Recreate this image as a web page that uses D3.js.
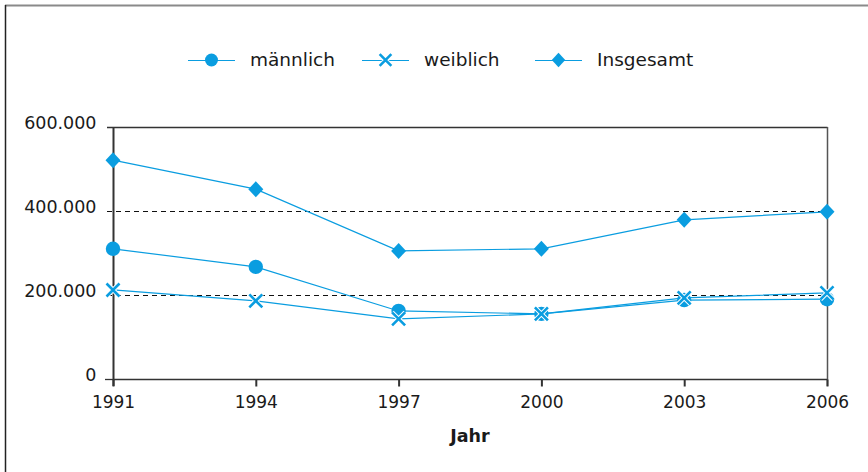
<!DOCTYPE html>
<html><head><meta charset="utf-8">
<script src="https://cdn.jsdelivr.net/npm/d3@7"></script>
<style>body{margin:0;background:#fff}svg{display:block}</style>
</head><body>
<svg id="c" width="868" height="472"></svg>
<script>
const years = [1991, 1994, 1997, 2000, 2003, 2006];
const maennlich = [310000, 267000, 162000, 155000, 188000, 190000];
const weiblich = [212000, 186000, 143000, 155000, 193000, 205000];
const insgesamt = [521000, 452000, 305000, 310000, 379000, 398000];
const yTicks = [0, 200000, 400000, 600000];
const seriesNames = ["männlich", "weiblich", "Insgesamt"];
const seriesSymbols = ["circle", "cross", "diamond"];
const xTitle = "Jahr";

const blue = "#0a9de0";
const font = "'DejaVu Sans', sans-serif";
const svg = d3.select("#c");

// frame
svg.append("line").attr("x1",5).attr("x2",868).attr("y1",5.5).attr("y2",5.5).attr("stroke","#8a8a8a").attr("stroke-width",2);
svg.append("line").attr("x1",5.5).attr("x2",5.5).attr("y1",5).attr("y2",472).attr("stroke","#222").attr("stroke-width",1.5);

const x = d3.scalePoint().domain(years).range([113, 827]);
const y = d3.scaleLinear().domain([0, 600000]).range([379, 127]);

// gridlines
svg.append("g").selectAll("line").data([200000, 400000]).join("line")
  .attr("x1",107).attr("x2",827).attr("y1",d=>Math.round(y(d))+0.5).attr("y2",d=>Math.round(y(d))+0.5)
  .attr("stroke","#111").attr("stroke-width",1).attr("stroke-dasharray","5,4");
// top line
svg.append("line").attr("x1",107).attr("x2",827.5).attr("y1",127.5).attr("y2",127.5).attr("stroke","#333").attr("stroke-width",1.3);
// right line
svg.append("line").attr("x1",827.5).attr("x2",827.5).attr("y1",127).attr("y2",386).attr("stroke","#555").attr("stroke-width",1.5);

// y axis
const yAxis = svg.append("g").attr("transform","translate(113.5,0)")
  .call(d3.axisLeft(y).tickValues(yTicks).tickSize(0).tickPadding(17)
    .tickFormat(d => d3.format(",")(d).replace(/,/g, ".")));
yAxis.select(".domain").remove();
yAxis.selectAll("text").attr("font-family",font).attr("font-size",17.5).attr("fill","#1a1a1a").attr("dy","0.06em");
svg.append("line").attr("x1",113.5).attr("x2",113.5).attr("y1",128).attr("y2",386).attr("stroke","#333").attr("stroke-width",2);
svg.append("line").attr("x1",105).attr("x2",114).attr("y1",379.5).attr("y2",379.5).attr("stroke","#333").attr("stroke-width",1.3);

// x axis
const xAxis = svg.append("g").attr("transform","translate(0,379.5)")
  .call(d3.axisBottom(x).tickSize(7).tickPadding(9).tickFormat(d3.format("d")));
xAxis.select(".domain").attr("stroke","#333").attr("stroke-width",1.3).attr("d","M113,0H827");
xAxis.selectAll(".tick line").attr("stroke","#333").attr("stroke-width",2);
xAxis.selectAll("text").attr("font-family",font).attr("font-size",17).attr("fill","#1a1a1a");

svg.append("text").attr("x",470).attr("y",442).attr("text-anchor","middle")
  .attr("font-family",font).attr("font-size",17.5).attr("font-weight","bold").attr("fill","#1a1a1a").text(xTitle);

// markers
function marker(g, type, cx, cy, s) {
  s = s || 1;
  if (type === "circle") g.append("circle").attr("cx",cx).attr("cy",cy).attr("r",7.2*s).attr("fill",blue);
  else if (type === "diamond") g.append("path").attr("d",`M${cx},${cy-8*s}L${cx+7.5*s},${cy}L${cx},${cy+8*s}L${cx-7.5*s},${cy}Z`).attr("fill",blue);
  else {
    const r = 6.5*s;
    const d = `M${cx-r},${cy-r}L${cx+r},${cy+r}M${cx+r},${cy-r}L${cx-r},${cy+r}`;
    g.append("path").attr("d",d).attr("stroke","#fff").attr("stroke-width",4.5).attr("fill","none");
    g.append("path").attr("d",d).attr("stroke",blue).attr("stroke-width",2.6).attr("fill","none");
  }
}

const allSeries = [maennlich, weiblich, insgesamt];
const line = d3.line().x((d,i)=>x(years[i])).y(d=>y(d));
const plot = svg.append("g");
allSeries.forEach((s, k) => {
  plot.append("path").attr("d", line(s)).attr("fill","none").attr("stroke",blue).attr("stroke-width",1.2);
});
allSeries.forEach((s, k) => {
  const g = plot.append("g");
  s.forEach((v,i) => marker(g, seriesSymbols[k], x(years[i]), y(v)));
});

// legend
const legX = [188, 362, 535];
seriesNames.forEach((n, k) => {
  const g = svg.append("g");
  const x0 = legX[k], cy = 60;
  g.append("line").attr("x1",x0).attr("x2",x0+47).attr("y1",cy+0.5).attr("y2",cy+0.5).attr("stroke",blue).attr("stroke-width",1.2);
  marker(g, seriesSymbols[k], x0+23.5, cy, 0.9);
  g.append("text").attr("x",x0+62).attr("y",cy).attr("dy","0.35em").attr("font-family",font).attr("font-size",18.5).attr("fill","#1a1a1a").text(n);
});
</script>
</body></html>
